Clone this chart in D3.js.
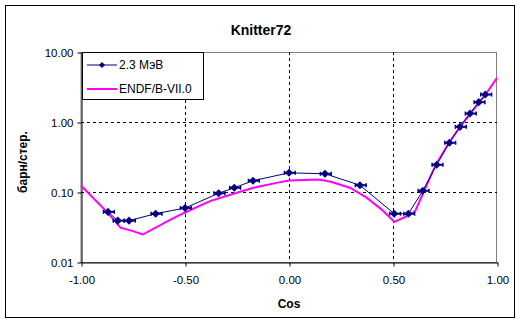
<!DOCTYPE html>
<html><head><meta charset="utf-8">
<script src="https://cdn.jsdelivr.net/npm/d3@7"></script>
<style>body{margin:0;background:#fff}svg{display:block}text{font-family:"Liberation Sans",Arial,sans-serif}</style>
</head><body>
<svg id="c" width="522" height="325"></svg>
<script>
const title = "Knitter72";
const seriesNames = ["2.3 МэВ", "ENDF/B-VII.0"];
const expCos = [-0.87, -0.823, -0.769, -0.641, -0.5, -0.338, -0.263, -0.173, 0.0, 0.173, 0.341, 0.506, 0.574, 0.643, 0.71, 0.771, 0.822, 0.87, 0.912, 0.944];
const expVal = [0.052, 0.039, 0.039, 0.049, 0.059, 0.096, 0.115, 0.145, 0.188, 0.182, 0.125, 0.049, 0.049, 0.104, 0.245, 0.505, 0.853, 1.32, 1.92, 2.47];
const endfCos = [-1.0, -0.87, -0.81, -0.75, -0.703, -0.572, -0.5, -0.38, -0.251, -0.171, -0.06, 0.0, 0.14, 0.197, 0.293, 0.373, 0.446, 0.506, 0.566, 0.606, 0.646, 0.702, 0.766, 0.822, 0.87, 0.944, 1.0];
const endfVal = [0.124, 0.050, 0.031, 0.0276, 0.0247, 0.040, 0.051, 0.074, 0.0975, 0.115, 0.135, 0.146, 0.151, 0.141, 0.115, 0.083, 0.056, 0.0375, 0.045, 0.053, 0.0975, 0.234, 0.49, 0.85, 1.30, 2.45, 4.27];
const xTicks = [-1, -0.5, 0, 0.5, 1];
const yTicks = [0.01, 0.1, 1, 10];
const xLabel = "Cos";
const yLabel = "барн/стер.";

const svg = d3.select("#c");
svg.append("rect").attr("x",5.5).attr("y",5.5).attr("width",509).attr("height",312)
  .attr("fill","#fff").attr("stroke","#000").attr("stroke-width",1);

const L=81, R=497, T=52, B=262;
const x = d3.scaleLinear().domain([-1,1]).range([L,R]);
const y = d3.scaleLog().domain([0.01,10]).range([B,T]);
const fmt = d => d.toFixed(2);

svg.append("rect").attr("x",L).attr("y",T+0.5).attr("width",R-L-0.5).attr("height",B-T)
  .attr("fill","#fff").attr("stroke","#808080").attr("stroke-width",1);

const g = svg.append("g");
xTicks.filter(d=>d>-1 && d<1).forEach(d=>{
  g.append("line").attr("x1",Math.round(x(d))+0.5).attr("x2",Math.round(x(d))+0.5).attr("y1",T).attr("y2",B)
   .attr("stroke","#000").attr("stroke-dasharray","3,3");
});
yTicks.filter(d=>d>0.01 && d<10).forEach(d=>{
  g.append("line").attr("y1",Math.round(y(d))+0.5).attr("y2",Math.round(y(d))+0.5).attr("x1",L).attr("x2",R)
   .attr("stroke","#000").attr("stroke-dasharray","3,3");
});

const xa = svg.append("g").attr("transform",`translate(0.5,${B+0.5})`)
  .call(d3.axisBottom(x).tickValues(xTicks).tickFormat(fmt).tickSize(4).tickSizeOuter(0));
const ya = svg.append("g").attr("transform",`translate(${L+0.5},0.5)`)
  .call(d3.axisLeft(y).tickValues(yTicks).tickFormat(fmt).tickSize(4).tickSizeOuter(0));
[xa,ya].forEach(a=>{
  a.select(".domain").attr("stroke","#000");
  a.selectAll(".tick line").attr("stroke","#000");
  a.selectAll("text").attr("fill","#000").style("font-size","11.5px").style("font-family","'Liberation Sans',Arial,sans-serif");
});
xa.selectAll(".tick text").attr("dy","0").attr("y",21);
ya.selectAll(".tick text").attr("x",-8).attr("dy","0.35em");

const line = d3.line().x(d=>x(d[0])).y(d=>y(d[1]));
svg.append("path").datum(endfCos.map((c,i)=>[c,endfVal[i]]))
  .attr("d",line).attr("fill","none").attr("stroke","#ff00ff").attr("stroke-width",2);

const expData = expCos.map((c,i)=>[c,expVal[i]]);
svg.append("path").datum(expData).attr("d",line).attr("fill","none").attr("stroke","#000080").attr("stroke-width",1);

const eg = svg.append("g");
expData.forEach(d=>{
  const cx=x(d[0]), cy=y(d[1]);
  const x0=x(d[0]-0.022), x1=x(d[0]+0.03);
  eg.append("line").attr("x1",x0).attr("x2",x1).attr("y1",cy).attr("y2",cy).attr("stroke","#000080").attr("stroke-width",2);
  eg.append("line").attr("x1",x1).attr("x2",x1).attr("y1",cy-2).attr("y2",cy+2).attr("stroke","#000080").attr("stroke-width",1.5);
  eg.append("line").attr("x1",x0).attr("x2",x0).attr("y1",cy-2).attr("y2",cy+2).attr("stroke","#000080").attr("stroke-width",1.5);
  eg.append("line").attr("x1",cx).attr("x2",cx).attr("y1",y(d[1]*0.92)).attr("y2",y(d[1]*1.08)).attr("stroke","#000080").attr("stroke-width",2.5);
});
svg.append("g").selectAll("path").data(expData).join("path")
  .attr("transform",d=>`translate(${x(d[0])},${y(d[1])})`)
  .attr("d",d3.symbol(d3.symbolDiamond2,42)).attr("fill","#000080");

const lg = svg.append("g");
lg.append("rect").attr("x",82.5).attr("y",52.5).attr("width",121).attr("height",47).attr("fill","#fff").attr("stroke","#000");
lg.append("line").attr("x1",87).attr("x2",117).attr("y1",65).attr("y2",65).attr("stroke","#000080").attr("stroke-width",1);
lg.append("path").attr("transform","translate(102,65)").attr("d",d3.symbol(d3.symbolDiamond2,24)).attr("fill","#000080");
lg.append("text").attr("x",119).attr("y",69).text(seriesNames[0]).style("font-size","12px");
lg.append("line").attr("x1",87).attr("x2",117).attr("y1",89).attr("y2",89).attr("stroke","#ff00ff").attr("stroke-width",2);
lg.append("text").attr("x",119).attr("y",93).text(seriesNames[1]).style("font-size","12px");

svg.append("text").attr("x",261).attr("y",35).attr("text-anchor","middle").style("font-size","14px").style("font-weight","bold").text(title);
svg.append("text").attr("x",289).attr("y",308).attr("text-anchor","middle").style("font-size","12px").style("font-weight","bold").text(xLabel);
svg.append("text").attr("transform","translate(27,162) rotate(-90)").attr("text-anchor","middle").style("font-size","12px").style("font-weight","bold").text(yLabel);
</script>
</body></html>
